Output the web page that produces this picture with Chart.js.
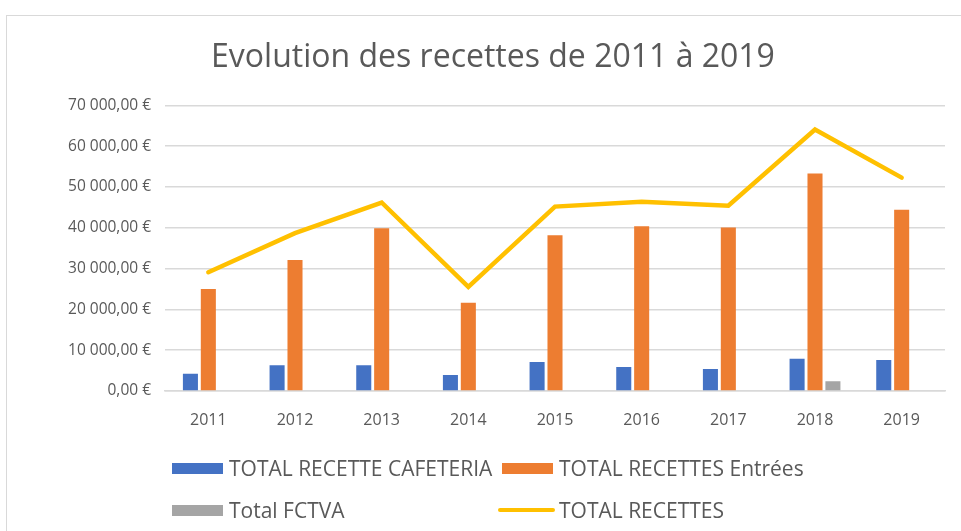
<!DOCTYPE html>
<html>
<head>
<meta charset="utf-8">
<script src="https://cdn.jsdelivr.net/npm/chart.js@4.4.0/dist/chart.umd.min.js"></script>
<style>
    body { margin: 0; width: 961px; height: 531px; overflow: hidden; background: #fff; font-family: Lato, "Open Sans", sans-serif; }
    .frame { position: absolute; left: 6px; top: 15px; width: 1000px; height: 600px; border: 1px solid #d9d9d9; }
    #chart { position: absolute; left: 0; top: 0; }
    .legend-item { position: absolute; display: flex; align-items: center; font-family: "Open Sans", sans-serif; font-size: 21px; color: #595959; white-space: nowrap; }
    .legend-box { width: 51px; height: 11px; margin-right: 6px; }
    .legend-line { width: 57px; height: 4.5px; border-radius: 2px; margin-right: 4px; }
</style>
</head>
<body>
<div class="frame"></div>
<canvas id="chart" width="961" height="531"></canvas>
<div id="legend"></div>
<script>
// Values (euros)
const years = ['2011', '2012', '2013', '2014', '2015', '2016', '2017', '2018', '2019'];
const recetteCafeteria = [4200, 6300, 6300, 3900, 7100, 5900, 5400, 7900, 7600];
const recettesEntrees = [25000, 32100, 39900, 21600, 38200, 40400, 40100, 53300, 44400];
const totalFctva = [null, null, null, null, null, null, null, 2400, null];
const totalRecettes = [29100, 38700, 46200, 25500, 45200, 46400, 45400, 64100, 52300];
const yTicks = [0, 10000, 20000, 30000, 40000, 50000, 60000, 70000];

const textColor = '#595959';
const gridColor = '#d9d9d9';

function euro(v) {
    const parts = Math.abs(v).toFixed(2).split('.');
    const intPart = parts[0].replace(/\B(?=(\d{3})+(?!\d))/g, ' ');
    return intPart + ',' + parts[1] + ' €';
}

const chart = new Chart(document.getElementById('chart'), {
    type: 'bar',
    data: {
        labels: years,
        datasets: [
            { label: 'TOTAL RECETTE CAFETERIA', data: recetteCafeteria, backgroundColor: '#4472C4', order: 1 },
            { label: 'TOTAL RECETTES Entrées', data: recettesEntrees, backgroundColor: '#ED7D31', order: 1 },
            { label: 'Total FCTVA', data: totalFctva, backgroundColor: '#A5A5A5', order: 1 },
            {
                label: 'TOTAL RECETTES', data: totalRecettes, type: 'line',
                borderColor: '#FFC000', backgroundColor: '#FFC000',
                borderWidth: 4.5, pointRadius: 0, tension: 0,
                borderCapStyle: 'round', borderJoinStyle: 'miter', order: 0
            }
        ]
    },
    options: {
        responsive: false,
        animation: false,
        layout: { padding: { left: 41, right: 16, top: 0, bottom: 100 } },
        datasets: {
            bar: { categoryPercentage: 0.62, barPercentage: 0.84 }
        },
        plugins: {
            legend: { display: false },
            tooltip: { enabled: false },
            title: {
                display: true,
                text: 'Evolution des recettes de 2011 à 2019',
                color: textColor,
                font: { family: 'Open Sans', size: 32, weight: 'normal' },
                padding: { top: 39, bottom: 28 }
            }
        },
        scales: {
            x: {
                grid: { display: false, drawTicks: false },
                border: { display: true, color: gridColor, width: 1.5 },
                ticks: { color: textColor, font: { family: 'Open Sans', size: 16 }, padding: 20 },
                afterFit: (axis) => { axis.height = 40; }
            },
            y: {
                min: 0,
                max: 70000,
                afterBuildTicks: (axis) => { axis.ticks = yTicks.map(v => ({ value: v })); },
                grid: { color: gridColor, lineWidth: 1.5, drawTicks: false },
                border: { display: false },
                ticks: {
                    color: textColor,
                    font: { family: 'Open Sans', size: 15.5 },
                    padding: 14,
                    callback: (v) => euro(v)
                },
                afterFit: (axis) => { axis.width = 124; }
            }
        }
    }
});

// Two column legend under the chart, like the original
const legendPos = [
    { left: 172, top: 468 },
    { left: 502, top: 468 },
    { left: 172, top: 510 },
    { left: 498, top: 510 }
];
const legend = document.getElementById('legend');
chart.data.datasets.forEach((ds, i) => {
    const item = document.createElement('div');
    item.className = 'legend-item';
    item.style.left = legendPos[i].left + 'px';
    item.style.top = (legendPos[i].top - 15) + 'px';
    item.style.height = '30px';
    const mark = document.createElement('span');
    mark.className = ds.type === 'line' ? 'legend-line' : 'legend-box';
    mark.style.background = ds.type === 'line' ? ds.borderColor : ds.backgroundColor;
    const label = document.createElement('span');
    label.textContent = ds.label;
    item.appendChild(mark);
    item.appendChild(label);
    legend.appendChild(item);
});
</script>
</body>
</html>
